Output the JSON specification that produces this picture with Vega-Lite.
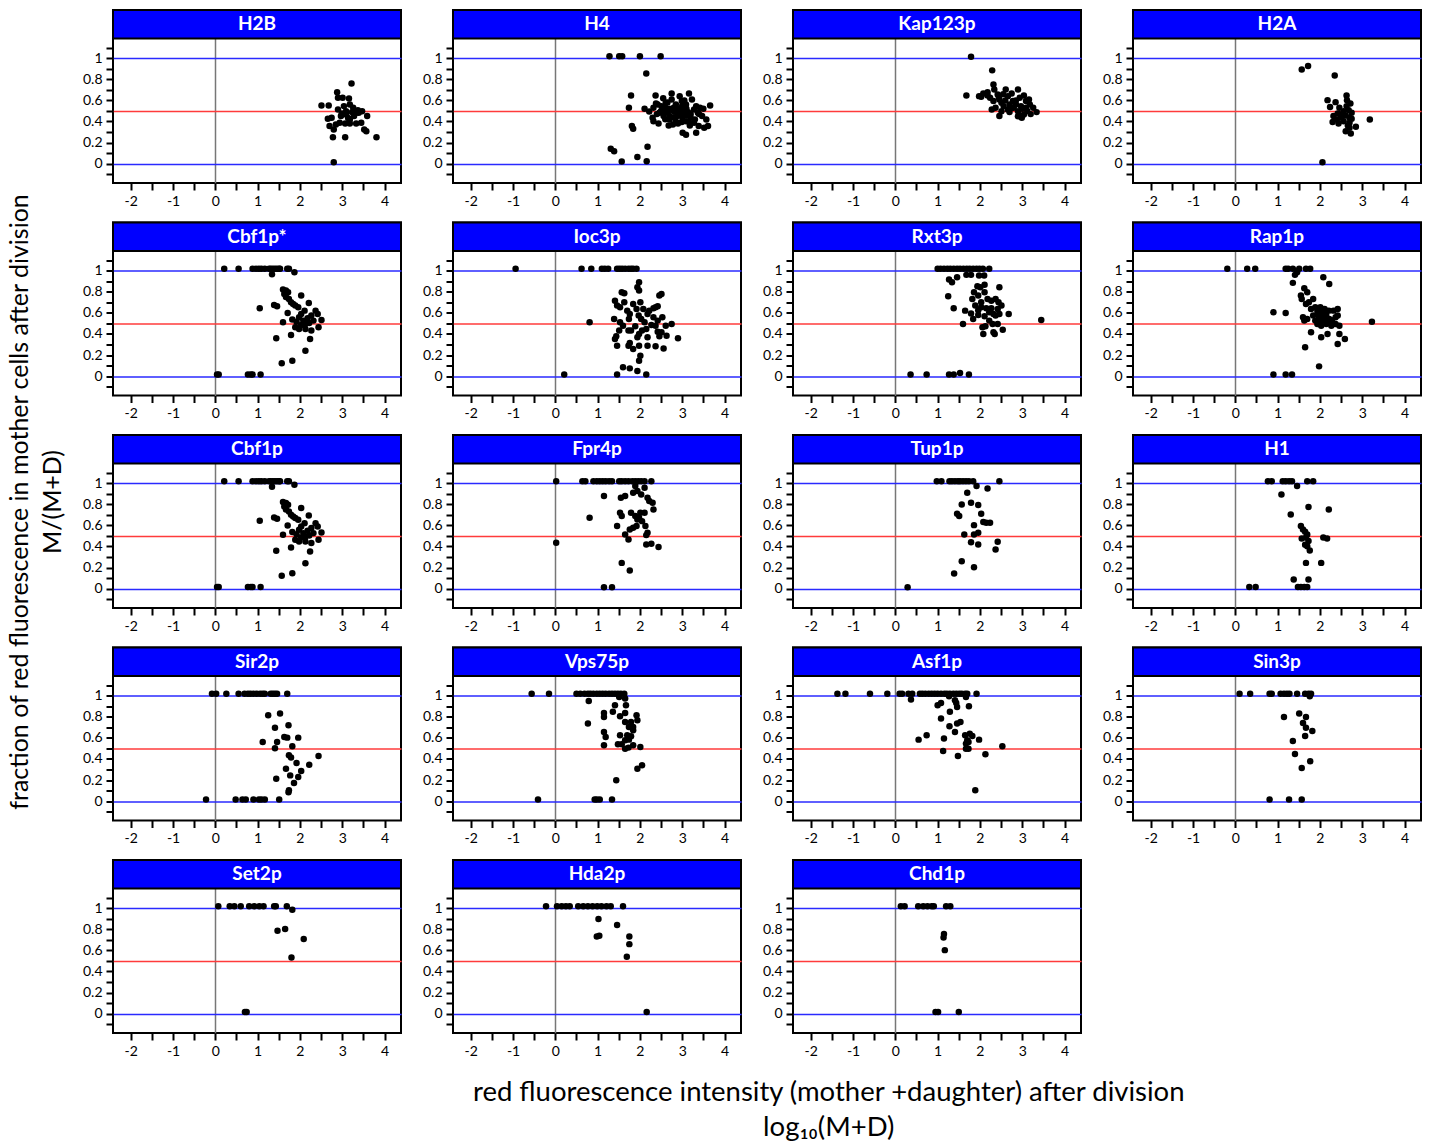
{
"$schema":"https://vega.github.io/schema/vega-lite/v6.json",
"padding":{"left":8,"top":7,"right":5,"bottom":5},
"background":"white",
"config":{
 "font":"Lato",
 "view":{"stroke":"black","strokeWidth":2},
 "axis":{"domain":false,"tickColor":"black","tickWidth":2,"tickSize":7,"labelFont":"Lato","labelFontSize":14,"labelColor":"black","labelPadding":4},
 "header":{"labels":false,"title":null,"labelFontSize":1,"labelPadding":0,"labelExpr":"''"},
 "headerFacet":{"labels":false,"title":null,"labelFontSize":1,"labelPadding":0,"labelExpr":"''"},
 "title":{"font":"Lato","fontWeight":"normal","color":"black"}
},
"title":{"text":["red fluorescence intensity (mother +daughter) after division","log₁₀(M+D)"],"orient":"bottom","fontSize":27.5,"lineHeight":35,"anchor":"middle","offset":20,"dx":113},
"vconcat":[{
 "title":{"text":["fraction of red fluorescence  in mother cells after division","M/(M+D)"],"orient":"left","fontSize":25,"lineHeight":33,"anchor":"middle","offset":15,"dx":31},
 "data":{"values":[
{"p":"H2B","x":2.51,"y":0.552},{"p":"H2B","x":2.68,"y":0.552},{"p":"H2B","x":2.88,"y":0.679},{"p":"H2B","x":2.90,"y":0.625},{"p":"H2B","x":3.01,"y":0.625},{"p":"H2B","x":3.16,"y":0.619},{"p":"H2B","x":3.22,"y":0.762},{"p":"H2B","x":3.04,"y":0.546},{"p":"H2B","x":2.90,"y":0.514},{"p":"H2B","x":3.09,"y":0.498},{"p":"H2B","x":3.18,"y":0.562},{"p":"H2B","x":3.26,"y":0.530},{"p":"H2B","x":3.37,"y":0.508},{"p":"H2B","x":3.47,"y":0.498},{"p":"H2B","x":3.59,"y":0.451},{"p":"H2B","x":3.28,"y":0.451},{"p":"H2B","x":3.18,"y":0.419},{"p":"H2B","x":3.09,"y":0.467},{"p":"H2B","x":2.97,"y":0.451},{"p":"H2B","x":2.75,"y":0.435},{"p":"H2B","x":2.66,"y":0.425},{"p":"H2B","x":2.70,"y":0.356},{"p":"H2B","x":2.80,"y":0.324},{"p":"H2B","x":2.85,"y":0.371},{"p":"H2B","x":2.94,"y":0.387},{"p":"H2B","x":3.07,"y":0.381},{"p":"H2B","x":3.18,"y":0.381},{"p":"H2B","x":3.33,"y":0.381},{"p":"H2B","x":3.45,"y":0.387},{"p":"H2B","x":3.52,"y":0.324},{"p":"H2B","x":3.57,"y":0.308},{"p":"H2B","x":2.78,"y":0.251},{"p":"H2B","x":3.07,"y":0.251},{"p":"H2B","x":3.81,"y":0.251},{"p":"H2B","x":2.80,"y":0.013},{"p":"H2B","x":3.39,"y":0.483},{"p":"H2B","x":3.33,"y":0.483},{"p":"H2B","x":3.23,"y":0.489},{"p":"H2B","x":3.14,"y":0.432},{"p":"H2B","x":2.99,"y":0.476},
{"p":"H4","x":1.28,"y":1.02},{"p":"H4","x":1.51,"y":1.02},{"p":"H4","x":1.58,"y":1.02},{"p":"H4","x":2.00,"y":1.02},{"p":"H4","x":2.49,"y":1.02},{"p":"H4","x":2.15,"y":0.857},{"p":"H4","x":1.79,"y":0.648},{"p":"H4","x":1.74,"y":0.530},{"p":"H4","x":2.11,"y":0.521},{"p":"H4","x":2.37,"y":0.648},{"p":"H4","x":1.81,"y":0.356},{"p":"H4","x":1.84,"y":0.33},{"p":"H4","x":1.31,"y":0.140},{"p":"H4","x":1.39,"y":0.117},{"p":"H4","x":1.57,"y":0.02},{"p":"H4","x":1.94,"y":0.063},{"p":"H4","x":2.16,"y":0.022},{"p":"H4","x":2.18,"y":0.159},
{"p":"H4","x":2.32,"y":0.530},{"p":"H4","x":2.42,"y":0.562},{"p":"H4","x":2.51,"y":0.546},{"p":"H4","x":2.61,"y":0.578},{"p":"H4","x":2.75,"y":0.667},{"p":"H4","x":2.75,"y":0.610},{"p":"H4","x":2.85,"y":0.562},{"p":"H4","x":2.94,"y":0.641},{"p":"H4","x":2.99,"y":0.594},{"p":"H4","x":3.09,"y":0.562},{"p":"H4","x":3.16,"y":0.667},{"p":"H4","x":3.23,"y":0.610},{"p":"H4","x":3.33,"y":0.546},{"p":"H4","x":3.42,"y":0.530},{"p":"H4","x":3.66,"y":0.552},{"p":"H4","x":2.30,"y":0.435},{"p":"H4","x":2.32,"y":0.403},{"p":"H4","x":2.44,"y":0.381},{"p":"H4","x":2.56,"y":0.451},{"p":"H4","x":2.66,"y":0.483},{"p":"H4","x":2.70,"y":0.419},{"p":"H4","x":2.80,"y":0.498},{"p":"H4","x":2.88,"y":0.451},{"p":"H4","x":2.94,"y":0.498},{"p":"H4","x":3.04,"y":0.467},{"p":"H4","x":3.14,"y":0.489},{"p":"H4","x":3.20,"y":0.435},{"p":"H4","x":3.28,"y":0.514},{"p":"H4","x":3.37,"y":0.483},{"p":"H4","x":3.47,"y":0.451},{"p":"H4","x":3.57,"y":0.419},{"p":"H4","x":2.46,"y":0.483},{"p":"H4","x":2.59,"y":0.508},{"p":"H4","x":2.90,"y":0.381},{"p":"H4","x":2.99,"y":0.394},{"p":"H4","x":3.09,"y":0.403},{"p":"H4","x":3.18,"y":0.362},{"p":"H4","x":3.28,"y":0.387},{"p":"H4","x":3.39,"y":0.356},{"p":"H4","x":3.52,"y":0.340},{"p":"H4","x":3.61,"y":0.356},{"p":"H4","x":3.01,"y":0.292},{"p":"H4","x":3.09,"y":0.273},{"p":"H4","x":3.33,"y":0.292},{"p":"H4","x":2.68,"y":0.362},{"p":"H4","x":2.78,"y":0.371},{"p":"H4","x":2.22,"y":0.495},
{"p":"H4","x":2.50,"y":0.50},{"p":"H4","x":2.60,"y":0.53},{"p":"H4","x":2.70,"y":0.52},{"p":"H4","x":2.80,"y":0.53},{"p":"H4","x":2.90,"y":0.52},{"p":"H4","x":3.00,"y":0.50},{"p":"H4","x":3.10,"y":0.52},{"p":"H4","x":3.20,"y":0.47},{"p":"H4","x":2.90,"y":0.47},{"p":"H4","x":2.80,"y":0.44},{"p":"H4","x":3.00,"y":0.44},{"p":"H4","x":3.10,"y":0.46},{"p":"H4","x":2.60,"y":0.42},{"p":"H4","x":2.40,"y":0.47},{"p":"H4","x":3.30,"y":0.42},{"p":"H4","x":3.00,"y":0.55},{"p":"H4","x":2.65,"y":0.58},{"p":"H4","x":2.55,"y":0.62},{"p":"H4","x":3.40,"y":0.47},{"p":"H4","x":2.85,"y":0.40},{"p":"H4","x":3.15,"y":0.40},{"p":"H4","x":2.38,"y":0.57},{"p":"H4","x":3.50,"y":0.52},{"p":"H4","x":3.05,"y":0.60},{"p":"H4","x":2.70,"y":0.45},
{"p":"Kap123p","x":1.79,"y":1.016},{"p":"Kap123p","x":1.68,"y":0.648},{"p":"Kap123p","x":2.29,"y":0.886},{"p":"Kap123p","x":1.98,"y":0.641},{"p":"Kap123p","x":2.08,"y":0.667},{"p":"Kap123p","x":2.18,"y":0.679},{"p":"Kap123p","x":2.24,"y":0.625},{"p":"Kap123p","x":2.32,"y":0.752},{"p":"Kap123p","x":2.34,"y":0.705},{"p":"Kap123p","x":2.42,"y":0.657},{"p":"Kap123p","x":2.46,"y":0.610},{"p":"Kap123p","x":2.51,"y":0.578},{"p":"Kap123p","x":2.61,"y":0.705},{"p":"Kap123p","x":2.66,"y":0.641},{"p":"Kap123p","x":2.75,"y":0.667},{"p":"Kap123p","x":2.78,"y":0.594},{"p":"Kap123p","x":2.90,"y":0.705},{"p":"Kap123p","x":2.94,"y":0.625},{"p":"Kap123p","x":3.04,"y":0.648},{"p":"Kap123p","x":3.09,"y":0.594},{"p":"Kap123p","x":3.16,"y":0.610},{"p":"Kap123p","x":3.18,"y":0.562},{"p":"Kap123p","x":3.26,"y":0.530},{"p":"Kap123p","x":3.34,"y":0.489},{"p":"Kap123p","x":2.28,"y":0.514},{"p":"Kap123p","x":2.37,"y":0.530},{"p":"Kap123p","x":2.46,"y":0.451},{"p":"Kap123p","x":2.56,"y":0.546},{"p":"Kap123p","x":2.66,"y":0.514},{"p":"Kap123p","x":2.70,"y":0.489},{"p":"Kap123p","x":2.80,"y":0.530},{"p":"Kap123p","x":2.85,"y":0.562},{"p":"Kap123p","x":2.90,"y":0.498},{"p":"Kap123p","x":2.94,"y":0.451},{"p":"Kap123p","x":2.99,"y":0.435},{"p":"Kap123p","x":3.04,"y":0.467},{"p":"Kap123p","x":3.09,"y":0.530},{"p":"Kap123p","x":2.97,"y":0.546},{"p":"Kap123p","x":2.70,"y":0.562},{"p":"Kap123p","x":2.51,"y":0.498},{"p":"Kap123p","x":2.32,"y":0.594},{"p":"Kap123p","x":2.18,"y":0.648},{"p":"Kap123p","x":2.03,"y":0.635},{"p":"Kap123p","x":2.60,"y":0.60},{"p":"Kap123p","x":2.85,"y":0.60},{"p":"Kap123p","x":3.00,"y":0.52},{"p":"Kap123p","x":2.45,"y":0.63},{"p":"Kap123p","x":2.75,"y":0.53},{"p":"Kap123p","x":3.12,"y":0.50},{"p":"Kap123p","x":2.90,"y":0.45},{"p":"Kap123p","x":3.20,"y":0.47},{"p":"Kap123p","x":2.55,"y":0.66},
{"p":"H2A","x":1.57,"y":0.895},{"p":"H2A","x":1.72,"y":0.927},{"p":"H2A","x":2.35,"y":0.838},{"p":"H2A","x":2.06,"y":0.013},{"p":"H2A","x":2.18,"y":0.603},{"p":"H2A","x":2.24,"y":0.537},{"p":"H2A","x":2.37,"y":0.584},{"p":"H2A","x":2.63,"y":0.648},{"p":"H2A","x":2.64,"y":0.603},{"p":"H2A","x":2.46,"y":0.530},{"p":"H2A","x":2.56,"y":0.498},{"p":"H2A","x":2.68,"y":0.508},{"p":"H2A","x":2.32,"y":0.451},{"p":"H2A","x":2.42,"y":0.476},{"p":"H2A","x":2.51,"y":0.435},{"p":"H2A","x":2.61,"y":0.457},{"p":"H2A","x":2.75,"y":0.483},{"p":"H2A","x":2.70,"y":0.435},{"p":"H2A","x":2.30,"y":0.394},{"p":"H2A","x":2.44,"y":0.381},{"p":"H2A","x":2.56,"y":0.403},{"p":"H2A","x":2.66,"y":0.362},{"p":"H2A","x":2.40,"y":0.419},{"p":"H2A","x":2.49,"y":0.467},{"p":"H2A","x":2.63,"y":0.546},{"p":"H2A","x":2.72,"y":0.572},{"p":"H2A","x":2.61,"y":0.308},{"p":"H2A","x":2.73,"y":0.286},{"p":"H2A","x":2.70,"y":0.340},{"p":"H2A","x":2.75,"y":0.425},{"p":"H2A","x":3.18,"y":0.419},{"p":"H2A","x":2.70,"y":0.387},{"p":"H2A","x":2.85,"y":0.35},
{"p":"Cbf1p*","x":0.21,"y":1.02},{"p":"Cbf1p*","x":0.55,"y":1.02},{"p":"Cbf1p*","x":0.88,"y":1.02},{"p":"Cbf1p*","x":0.96,"y":1.02},{"p":"Cbf1p*","x":1.03,"y":1.02},{"p":"Cbf1p*","x":1.09,"y":1.02},{"p":"Cbf1p*","x":1.17,"y":1.02},{"p":"Cbf1p*","x":1.27,"y":1.02},{"p":"Cbf1p*","x":1.31,"y":1.02},{"p":"Cbf1p*","x":1.36,"y":1.02},{"p":"Cbf1p*","x":1.41,"y":1.02},{"p":"Cbf1p*","x":1.46,"y":1.02},{"p":"Cbf1p*","x":1.51,"y":1.02},{"p":"Cbf1p*","x":1.53,"y":1.02},{"p":"Cbf1p*","x":1.70,"y":1.02},{"p":"Cbf1p*","x":1.74,"y":1.02},{"p":"Cbf1p*","x":1.87,"y":0.987},{"p":"Cbf1p*","x":1.34,"y":0.968},{"p":"Cbf1p*","x":0.04,"y":0.015},{"p":"Cbf1p*","x":0.08,"y":0.015},{"p":"Cbf1p*","x":0.77,"y":0.015},{"p":"Cbf1p*","x":0.84,"y":0.015},{"p":"Cbf1p*","x":0.88,"y":0.015},{"p":"Cbf1p*","x":1.07,"y":0.015},{"p":"Cbf1p*","x":1.05,"y":0.644},{"p":"Cbf1p*","x":1.39,"y":0.676},{"p":"Cbf1p*","x":1.46,"y":0.663},{"p":"Cbf1p*","x":1.60,"y":0.822},{"p":"Cbf1p*","x":1.67,"y":0.813},{"p":"Cbf1p*","x":1.72,"y":0.797},{"p":"Cbf1p*","x":1.63,"y":0.781},{"p":"Cbf1p*","x":1.67,"y":0.752},{"p":"Cbf1p*","x":1.74,"y":0.733},{"p":"Cbf1p*","x":1.79,"y":0.702},{"p":"Cbf1p*","x":1.84,"y":0.686},{"p":"Cbf1p*","x":1.89,"y":0.670},{"p":"Cbf1p*","x":1.96,"y":0.654},{"p":"Cbf1p*","x":2.03,"y":0.765},{"p":"Cbf1p*","x":2.21,"y":0.695},{"p":"Cbf1p*","x":2.11,"y":0.622},{"p":"Cbf1p*","x":2.03,"y":0.590},{"p":"Cbf1p*","x":1.98,"y":0.559},{"p":"Cbf1p*","x":2.08,"y":0.527},{"p":"Cbf1p*","x":2.18,"y":0.549},{"p":"Cbf1p*","x":2.27,"y":0.575},{"p":"Cbf1p*","x":2.37,"y":0.622},{"p":"Cbf1p*","x":2.42,"y":0.590},{"p":"Cbf1p*","x":2.32,"y":0.527},{"p":"Cbf1p*","x":2.51,"y":0.533},{"p":"Cbf1p*","x":2.22,"y":0.505},{"p":"Cbf1p*","x":2.13,"y":0.495},{"p":"Cbf1p*","x":2.03,"y":0.486},{"p":"Cbf1p*","x":1.92,"y":0.517},{"p":"Cbf1p*","x":1.82,"y":0.537},{"p":"Cbf1p*","x":1.60,"y":0.511},{"p":"Cbf1p*","x":1.71,"y":0.600},{"p":"Cbf1p*","x":1.89,"y":0.463},{"p":"Cbf1p*","x":1.98,"y":0.448},{"p":"Cbf1p*","x":2.13,"y":0.448},{"p":"Cbf1p*","x":2.27,"y":0.432},{"p":"Cbf1p*","x":2.44,"y":0.463},{"p":"Cbf1p*","x":1.79,"y":0.390},{"p":"Cbf1p*","x":1.44,"y":0.359},{"p":"Cbf1p*","x":2.24,"y":0.352},{"p":"Cbf1p*","x":2.13,"y":0.241},{"p":"Cbf1p*","x":1.57,"y":0.121},{"p":"Cbf1p*","x":1.82,"y":0.146},
{"p":"Cbf1p","x":0.21,"y":1.02},{"p":"Cbf1p","x":0.55,"y":1.02},{"p":"Cbf1p","x":0.88,"y":1.02},{"p":"Cbf1p","x":0.96,"y":1.02},{"p":"Cbf1p","x":1.03,"y":1.02},{"p":"Cbf1p","x":1.09,"y":1.02},{"p":"Cbf1p","x":1.17,"y":1.02},{"p":"Cbf1p","x":1.27,"y":1.02},{"p":"Cbf1p","x":1.31,"y":1.02},{"p":"Cbf1p","x":1.36,"y":1.02},{"p":"Cbf1p","x":1.41,"y":1.02},{"p":"Cbf1p","x":1.46,"y":1.02},{"p":"Cbf1p","x":1.51,"y":1.02},{"p":"Cbf1p","x":1.53,"y":1.02},{"p":"Cbf1p","x":1.70,"y":1.02},{"p":"Cbf1p","x":1.74,"y":1.02},{"p":"Cbf1p","x":1.87,"y":0.987},{"p":"Cbf1p","x":1.34,"y":0.968},{"p":"Cbf1p","x":0.04,"y":0.015},{"p":"Cbf1p","x":0.08,"y":0.015},{"p":"Cbf1p","x":0.77,"y":0.015},{"p":"Cbf1p","x":0.84,"y":0.015},{"p":"Cbf1p","x":0.88,"y":0.015},{"p":"Cbf1p","x":1.07,"y":0.015},{"p":"Cbf1p","x":1.05,"y":0.644},{"p":"Cbf1p","x":1.39,"y":0.676},{"p":"Cbf1p","x":1.46,"y":0.663},{"p":"Cbf1p","x":1.60,"y":0.822},{"p":"Cbf1p","x":1.67,"y":0.813},{"p":"Cbf1p","x":1.72,"y":0.797},{"p":"Cbf1p","x":1.63,"y":0.781},{"p":"Cbf1p","x":1.67,"y":0.752},{"p":"Cbf1p","x":1.74,"y":0.733},{"p":"Cbf1p","x":1.79,"y":0.702},{"p":"Cbf1p","x":1.84,"y":0.686},{"p":"Cbf1p","x":1.89,"y":0.670},{"p":"Cbf1p","x":1.96,"y":0.654},{"p":"Cbf1p","x":2.03,"y":0.765},{"p":"Cbf1p","x":2.21,"y":0.695},{"p":"Cbf1p","x":2.11,"y":0.622},{"p":"Cbf1p","x":2.03,"y":0.590},{"p":"Cbf1p","x":1.98,"y":0.559},{"p":"Cbf1p","x":2.08,"y":0.527},{"p":"Cbf1p","x":2.18,"y":0.549},{"p":"Cbf1p","x":2.27,"y":0.575},{"p":"Cbf1p","x":2.37,"y":0.622},{"p":"Cbf1p","x":2.42,"y":0.590},{"p":"Cbf1p","x":2.32,"y":0.527},{"p":"Cbf1p","x":2.51,"y":0.533},{"p":"Cbf1p","x":2.22,"y":0.505},{"p":"Cbf1p","x":2.13,"y":0.495},{"p":"Cbf1p","x":2.03,"y":0.486},{"p":"Cbf1p","x":1.92,"y":0.517},{"p":"Cbf1p","x":1.82,"y":0.537},{"p":"Cbf1p","x":1.60,"y":0.511},{"p":"Cbf1p","x":1.71,"y":0.600},{"p":"Cbf1p","x":1.89,"y":0.463},{"p":"Cbf1p","x":1.98,"y":0.448},{"p":"Cbf1p","x":2.13,"y":0.448},{"p":"Cbf1p","x":2.27,"y":0.432},{"p":"Cbf1p","x":2.44,"y":0.463},{"p":"Cbf1p","x":1.79,"y":0.390},{"p":"Cbf1p","x":1.44,"y":0.359},{"p":"Cbf1p","x":2.24,"y":0.352},{"p":"Cbf1p","x":2.13,"y":0.241},{"p":"Cbf1p","x":1.57,"y":0.121},{"p":"Cbf1p","x":1.82,"y":0.146},
{"p":"Ioc3p","x":-0.94,"y":1.02},{"p":"Ioc3p","x":0.62,"y":1.02},{"p":"Ioc3p","x":0.85,"y":1.02},{"p":"Ioc3p","x":1.10,"y":1.02},{"p":"Ioc3p","x":1.17,"y":1.02},{"p":"Ioc3p","x":1.25,"y":1.02},{"p":"Ioc3p","x":1.46,"y":1.02},{"p":"Ioc3p","x":1.52,"y":1.02},{"p":"Ioc3p","x":1.58,"y":1.02},{"p":"Ioc3p","x":1.65,"y":1.02},{"p":"Ioc3p","x":1.73,"y":1.02},{"p":"Ioc3p","x":1.79,"y":1.02},{"p":"Ioc3p","x":1.84,"y":1.02},{"p":"Ioc3p","x":1.92,"y":1.02},{"p":"Ioc3p","x":0.21,"y":0.015},{"p":"Ioc3p","x":1.46,"y":0.015},{"p":"Ioc3p","x":1.60,"y":0.083},{"p":"Ioc3p","x":1.76,"y":0.073},{"p":"Ioc3p","x":1.94,"y":0.048},{"p":"Ioc3p","x":2.15,"y":0.015},{"p":"Ioc3p","x":1.98,"y":0.892},{"p":"Ioc3p","x":0.81,"y":0.511},
{"p":"Ioc3p","x":1.41,"y":0.717},{"p":"Ioc3p","x":1.57,"y":0.797},{"p":"Ioc3p","x":1.63,"y":0.787},{"p":"Ioc3p","x":1.94,"y":0.844},{"p":"Ioc3p","x":1.98,"y":0.813},{"p":"Ioc3p","x":1.46,"y":0.670},{"p":"Ioc3p","x":1.53,"y":0.654},{"p":"Ioc3p","x":1.63,"y":0.702},{"p":"Ioc3p","x":1.70,"y":0.622},{"p":"Ioc3p","x":1.76,"y":0.590},{"p":"Ioc3p","x":1.84,"y":0.686},{"p":"Ioc3p","x":1.92,"y":0.638},{"p":"Ioc3p","x":2.01,"y":0.702},{"p":"Ioc3p","x":1.39,"y":0.543},{"p":"Ioc3p","x":1.53,"y":0.511},{"p":"Ioc3p","x":1.60,"y":0.479},{"p":"Ioc3p","x":1.51,"y":0.432},{"p":"Ioc3p","x":1.44,"y":0.378},{"p":"Ioc3p","x":1.41,"y":0.352},{"p":"Ioc3p","x":1.46,"y":0.289},{"p":"Ioc3p","x":1.73,"y":0.289},{"p":"Ioc3p","x":1.76,"y":0.314},{"p":"Ioc3p","x":1.97,"y":0.575},{"p":"Ioc3p","x":2.03,"y":0.543},{"p":"Ioc3p","x":2.11,"y":0.511},{"p":"Ioc3p","x":2.18,"y":0.590},{"p":"Ioc3p","x":2.22,"y":0.622},{"p":"Ioc3p","x":2.32,"y":0.644},{"p":"Ioc3p","x":2.37,"y":0.654},{"p":"Ioc3p","x":2.42,"y":0.663},{"p":"Ioc3p","x":2.46,"y":0.765},{"p":"Ioc3p","x":2.51,"y":0.781},{"p":"Ioc3p","x":2.32,"y":0.559},{"p":"Ioc3p","x":2.42,"y":0.527},{"p":"Ioc3p","x":2.37,"y":0.479},{"p":"Ioc3p","x":2.27,"y":0.486},{"p":"Ioc3p","x":2.15,"y":0.448},{"p":"Ioc3p","x":2.05,"y":0.432},{"p":"Ioc3p","x":1.98,"y":0.400},{"p":"Ioc3p","x":1.94,"y":0.368},{"p":"Ioc3p","x":1.89,"y":0.473},{"p":"Ioc3p","x":1.79,"y":0.432},{"p":"Ioc3p","x":1.74,"y":0.543},{"p":"Ioc3p","x":2.08,"y":0.638},{"p":"Ioc3p","x":2.18,"y":0.368},{"p":"Ioc3p","x":2.42,"y":0.422},{"p":"Ioc3p","x":2.51,"y":0.416},{"p":"Ioc3p","x":2.61,"y":0.479},{"p":"Ioc3p","x":2.75,"y":0.495},{"p":"Ioc3p","x":2.53,"y":0.559},{"p":"Ioc3p","x":2.63,"y":0.384},{"p":"Ioc3p","x":2.46,"y":0.378},{"p":"Ioc3p","x":2.90,"y":0.359},{"p":"Ioc3p","x":2.56,"y":0.263},{"p":"Ioc3p","x":2.37,"y":0.283},{"p":"Ioc3p","x":2.18,"y":0.289},{"p":"Ioc3p","x":1.98,"y":0.289},{"p":"Ioc3p","x":2.01,"y":0.194},{"p":"Ioc3p","x":1.98,"y":0.146},{"p":"Ioc3p","x":1.73,"y":0.432},{"p":"Ioc3p","x":1.84,"y":0.257},
{"p":"Rxt3p","x":1.00,"y":1.02},{"p":"Rxt3p","x":1.07,"y":1.02},{"p":"Rxt3p","x":1.15,"y":1.02},{"p":"Rxt3p","x":1.23,"y":1.02},{"p":"Rxt3p","x":1.30,"y":1.02},{"p":"Rxt3p","x":1.38,"y":1.02},{"p":"Rxt3p","x":1.46,"y":1.02},{"p":"Rxt3p","x":1.53,"y":1.02},{"p":"Rxt3p","x":1.61,"y":1.02},{"p":"Rxt3p","x":1.69,"y":1.02},{"p":"Rxt3p","x":1.76,"y":1.02},{"p":"Rxt3p","x":1.84,"y":1.02},{"p":"Rxt3p","x":1.92,"y":1.02},{"p":"Rxt3p","x":1.99,"y":1.02},{"p":"Rxt3p","x":2.07,"y":1.02},{"p":"Rxt3p","x":2.22,"y":1.02},{"p":"Rxt3p","x":1.68,"y":0.962},{"p":"Rxt3p","x":1.79,"y":0.962},{"p":"Rxt3p","x":1.98,"y":0.956},{"p":"Rxt3p","x":2.10,"y":0.956},{"p":"Rxt3p","x":0.36,"y":0.015},{"p":"Rxt3p","x":0.74,"y":0.015},{"p":"Rxt3p","x":1.27,"y":0.015},{"p":"Rxt3p","x":1.38,"y":0.015},{"p":"Rxt3p","x":1.53,"y":0.029},{"p":"Rxt3p","x":1.74,"y":0.015},
{"p":"Rxt3p","x":1.27,"y":0.917},{"p":"Rxt3p","x":1.34,"y":0.892},{"p":"Rxt3p","x":1.46,"y":0.940},{"p":"Rxt3p","x":1.25,"y":0.759},{"p":"Rxt3p","x":1.38,"y":0.644},{"p":"Rxt3p","x":1.65,"y":0.622},{"p":"Rxt3p","x":1.60,"y":0.495},{"p":"Rxt3p","x":1.84,"y":0.543},{"p":"Rxt3p","x":1.89,"y":0.670},{"p":"Rxt3p","x":1.86,"y":0.797},{"p":"Rxt3p","x":1.94,"y":0.854},{"p":"Rxt3p","x":2.01,"y":0.844},{"p":"Rxt3p","x":2.11,"y":0.867},{"p":"Rxt3p","x":1.82,"y":0.733},{"p":"Rxt3p","x":1.96,"y":0.765},{"p":"Rxt3p","x":2.03,"y":0.702},{"p":"Rxt3p","x":2.11,"y":0.797},{"p":"Rxt3p","x":2.18,"y":0.733},{"p":"Rxt3p","x":2.27,"y":0.717},{"p":"Rxt3p","x":2.37,"y":0.733},{"p":"Rxt3p","x":2.44,"y":0.702},{"p":"Rxt3p","x":2.46,"y":0.844},{"p":"Rxt3p","x":2.51,"y":0.670},{"p":"Rxt3p","x":2.42,"y":0.638},{"p":"Rxt3p","x":2.27,"y":0.644},{"p":"Rxt3p","x":2.22,"y":0.606},{"p":"Rxt3p","x":2.32,"y":0.590},{"p":"Rxt3p","x":2.37,"y":0.575},{"p":"Rxt3p","x":2.46,"y":0.590},{"p":"Rxt3p","x":2.68,"y":0.590},{"p":"Rxt3p","x":2.15,"y":0.644},{"p":"Rxt3p","x":2.03,"y":0.654},{"p":"Rxt3p","x":1.96,"y":0.581},{"p":"Rxt3p","x":2.11,"y":0.568},{"p":"Rxt3p","x":2.22,"y":0.527},{"p":"Rxt3p","x":2.42,"y":0.495},{"p":"Rxt3p","x":2.30,"y":0.495},{"p":"Rxt3p","x":2.06,"y":0.463},{"p":"Rxt3p","x":2.13,"y":0.473},{"p":"Rxt3p","x":2.08,"y":0.400},{"p":"Rxt3p","x":2.32,"y":0.416},{"p":"Rxt3p","x":2.35,"y":0.400},{"p":"Rxt3p","x":2.54,"y":0.441},{"p":"Rxt3p","x":3.45,"y":0.533},{"p":"Rxt3p","x":1.79,"y":0.594},{"p":"Rxt3p","x":1.96,"y":0.625},
{"p":"Rap1p","x":-0.19,"y":1.02},{"p":"Rap1p","x":0.28,"y":1.02},{"p":"Rap1p","x":0.47,"y":1.02},{"p":"Rap1p","x":1.19,"y":1.02},{"p":"Rap1p","x":1.25,"y":1.02},{"p":"Rap1p","x":1.36,"y":1.02},{"p":"Rap1p","x":1.51,"y":1.02},{"p":"Rap1p","x":1.67,"y":1.02},{"p":"Rap1p","x":1.77,"y":1.02},{"p":"Rap1p","x":1.41,"y":0.962},{"p":"Rap1p","x":1.46,"y":0.987},{"p":"Rap1p","x":0.90,"y":0.015},{"p":"Rap1p","x":1.19,"y":0.015},{"p":"Rap1p","x":1.34,"y":0.015},{"p":"Rap1p","x":1.36,"y":0.886},{"p":"Rap1p","x":2.08,"y":0.940},{"p":"Rap1p","x":2.22,"y":0.876},{"p":"Rap1p","x":0.90,"y":0.606},{"p":"Rap1p","x":1.19,"y":0.600},
{"p":"Rap1p","x":1.63,"y":0.835},{"p":"Rap1p","x":1.70,"y":0.797},{"p":"Rap1p","x":1.55,"y":0.765},{"p":"Rap1p","x":1.57,"y":0.733},{"p":"Rap1p","x":1.74,"y":0.702},{"p":"Rap1p","x":1.84,"y":0.733},{"p":"Rap1p","x":1.89,"y":0.654},{"p":"Rap1p","x":1.67,"y":0.686},{"p":"Rap1p","x":1.79,"y":0.638},{"p":"Rap1p","x":1.94,"y":0.622},{"p":"Rap1p","x":2.01,"y":0.654},{"p":"Rap1p","x":2.11,"y":0.638},{"p":"Rap1p","x":2.21,"y":0.622},{"p":"Rap1p","x":2.32,"y":0.622},{"p":"Rap1p","x":2.42,"y":0.638},{"p":"Rap1p","x":1.60,"y":0.559},{"p":"Rap1p","x":1.63,"y":0.527},{"p":"Rap1p","x":1.70,"y":0.543},{"p":"Rap1p","x":1.84,"y":0.575},{"p":"Rap1p","x":1.89,"y":0.527},{"p":"Rap1p","x":1.98,"y":0.559},{"p":"Rap1p","x":2.05,"y":0.575},{"p":"Rap1p","x":2.13,"y":0.559},{"p":"Rap1p","x":2.22,"y":0.543},{"p":"Rap1p","x":2.37,"y":0.559},{"p":"Rap1p","x":2.42,"y":0.575},{"p":"Rap1p","x":1.94,"y":0.495},{"p":"Rap1p","x":2.03,"y":0.479},{"p":"Rap1p","x":2.15,"y":0.495},{"p":"Rap1p","x":2.27,"y":0.479},{"p":"Rap1p","x":2.37,"y":0.495},{"p":"Rap1p","x":2.46,"y":0.479},{"p":"Rap1p","x":2.46,"y":0.400},{"p":"Rap1p","x":1.79,"y":0.416},{"p":"Rap1p","x":1.65,"y":0.273},{"p":"Rap1p","x":2.03,"y":0.368},{"p":"Rap1p","x":2.18,"y":0.400},{"p":"Rap1p","x":2.42,"y":0.305},{"p":"Rap1p","x":2.59,"y":0.352},{"p":"Rap1p","x":1.98,"y":0.092},{"p":"Rap1p","x":3.23,"y":0.517},{"p":"Rap1p","x":2.00,"y":0.52},{"p":"Rap1p","x":2.10,"y":0.53},{"p":"Rap1p","x":2.20,"y":0.51},{"p":"Rap1p","x":1.95,"y":0.60},{"p":"Rap1p","x":2.05,"y":0.61},{"p":"Rap1p","x":2.15,"y":0.58},{"p":"Rap1p","x":2.28,"y":0.53},
{"p":"Fpr4p","x":0.02,"y":1.02},{"p":"Fpr4p","x":0.64,"y":1.02},{"p":"Fpr4p","x":0.71,"y":1.02},{"p":"Fpr4p","x":0.90,"y":1.02},{"p":"Fpr4p","x":0.98,"y":1.02},{"p":"Fpr4p","x":1.05,"y":1.02},{"p":"Fpr4p","x":1.12,"y":1.02},{"p":"Fpr4p","x":1.19,"y":1.02},{"p":"Fpr4p","x":1.27,"y":1.02},{"p":"Fpr4p","x":1.34,"y":1.02},{"p":"Fpr4p","x":1.51,"y":1.02},{"p":"Fpr4p","x":1.57,"y":1.02},{"p":"Fpr4p","x":1.65,"y":1.02},{"p":"Fpr4p","x":1.73,"y":1.02},{"p":"Fpr4p","x":1.82,"y":1.02},{"p":"Fpr4p","x":1.89,"y":1.02},{"p":"Fpr4p","x":1.96,"y":1.02},{"p":"Fpr4p","x":2.03,"y":1.02},{"p":"Fpr4p","x":2.11,"y":1.02},{"p":"Fpr4p","x":2.27,"y":1.02},
{"p":"Fpr4p","x":0.02,"y":0.435},{"p":"Fpr4p","x":0.81,"y":0.673},{"p":"Fpr4p","x":1.15,"y":0.879},{"p":"Fpr4p","x":1.15,"y":0.013},{"p":"Fpr4p","x":1.34,"y":0.013},{"p":"Fpr4p","x":1.55,"y":0.863},{"p":"Fpr4p","x":1.65,"y":0.879},{"p":"Fpr4p","x":1.89,"y":0.975},{"p":"Fpr4p","x":1.94,"y":0.927},{"p":"Fpr4p","x":2.03,"y":0.895},{"p":"Fpr4p","x":2.11,"y":0.959},{"p":"Fpr4p","x":1.84,"y":0.911},{"p":"Fpr4p","x":2.18,"y":0.863},{"p":"Fpr4p","x":2.22,"y":0.832},{"p":"Fpr4p","x":2.30,"y":0.816},{"p":"Fpr4p","x":2.32,"y":0.752},{"p":"Fpr4p","x":1.46,"y":0.594},{"p":"Fpr4p","x":1.53,"y":0.721},{"p":"Fpr4p","x":1.57,"y":0.689},{"p":"Fpr4p","x":1.65,"y":0.514},{"p":"Fpr4p","x":1.73,"y":0.467},{"p":"Fpr4p","x":1.76,"y":0.562},{"p":"Fpr4p","x":1.84,"y":0.578},{"p":"Fpr4p","x":1.92,"y":0.594},{"p":"Fpr4p","x":1.98,"y":0.673},{"p":"Fpr4p","x":2.01,"y":0.721},{"p":"Fpr4p","x":2.11,"y":0.721},{"p":"Fpr4p","x":2.05,"y":0.641},{"p":"Fpr4p","x":2.13,"y":0.594},{"p":"Fpr4p","x":2.18,"y":0.530},{"p":"Fpr4p","x":2.15,"y":0.508},{"p":"Fpr4p","x":1.79,"y":0.721},{"p":"Fpr4p","x":1.89,"y":0.689},{"p":"Fpr4p","x":1.94,"y":0.657},{"p":"Fpr4p","x":2.15,"y":0.419},{"p":"Fpr4p","x":2.27,"y":0.425},{"p":"Fpr4p","x":2.44,"y":0.394},{"p":"Fpr4p","x":1.57,"y":0.244},{"p":"Fpr4p","x":1.76,"y":0.171},
{"p":"Tup1p","x":0.98,"y":1.02},{"p":"Tup1p","x":1.09,"y":1.02},{"p":"Tup1p","x":1.28,"y":1.02},{"p":"Tup1p","x":1.34,"y":1.02},{"p":"Tup1p","x":1.41,"y":1.02},{"p":"Tup1p","x":1.48,"y":1.02},{"p":"Tup1p","x":1.53,"y":1.02},{"p":"Tup1p","x":1.60,"y":1.02},{"p":"Tup1p","x":1.67,"y":1.02},{"p":"Tup1p","x":1.74,"y":1.02},{"p":"Tup1p","x":1.84,"y":1.02},{"p":"Tup1p","x":2.46,"y":1.02},{"p":"Tup1p","x":1.92,"y":0.975},{"p":"Tup1p","x":2.18,"y":0.952},{"p":"Tup1p","x":1.70,"y":0.911},{"p":"Tup1p","x":1.57,"y":0.800},{"p":"Tup1p","x":1.79,"y":0.816},{"p":"Tup1p","x":1.96,"y":0.794},{"p":"Tup1p","x":1.46,"y":0.711},{"p":"Tup1p","x":1.51,"y":0.689},{"p":"Tup1p","x":2.03,"y":0.711},{"p":"Tup1p","x":2.08,"y":0.632},{"p":"Tup1p","x":2.15,"y":0.625},{"p":"Tup1p","x":2.24,"y":0.625},{"p":"Tup1p","x":1.86,"y":0.603},{"p":"Tup1p","x":1.63,"y":0.514},{"p":"Tup1p","x":1.86,"y":0.514},{"p":"Tup1p","x":1.96,"y":0.530},{"p":"Tup1p","x":1.79,"y":0.441},{"p":"Tup1p","x":1.96,"y":0.419},{"p":"Tup1p","x":2.42,"y":0.444},{"p":"Tup1p","x":2.37,"y":0.371},{"p":"Tup1p","x":1.57,"y":0.260},{"p":"Tup1p","x":1.86,"y":0.203},{"p":"Tup1p","x":1.39,"y":0.143},{"p":"Tup1p","x":0.29,"y":0.013},
{"p":"H1","x":0.77,"y":1.02},{"p":"H1","x":0.86,"y":1.02},{"p":"H1","x":1.12,"y":1.02},{"p":"H1","x":1.19,"y":1.02},{"p":"H1","x":1.27,"y":1.02},{"p":"H1","x":1.34,"y":1.02},{"p":"H1","x":1.70,"y":1.02},{"p":"H1","x":1.84,"y":1.02},{"p":"H1","x":1.46,"y":0.975},{"p":"H1","x":1.09,"y":0.895},{"p":"H1","x":1.31,"y":0.705},{"p":"H1","x":1.73,"y":0.775},{"p":"H1","x":2.21,"y":0.752},{"p":"H1","x":1.55,"y":0.594},{"p":"H1","x":1.60,"y":0.562},{"p":"H1","x":1.65,"y":0.540},{"p":"H1","x":1.70,"y":0.514},{"p":"H1","x":1.57,"y":0.476},{"p":"H1","x":1.67,"y":0.486},{"p":"H1","x":1.73,"y":0.451},{"p":"H1","x":1.70,"y":0.403},{"p":"H1","x":1.76,"y":0.362},{"p":"H1","x":1.65,"y":0.416},{"p":"H1","x":2.08,"y":0.486},{"p":"H1","x":2.17,"y":0.476},{"p":"H1","x":1.67,"y":0.244},{"p":"H1","x":2.03,"y":0.244},{"p":"H1","x":1.38,"y":0.086},{"p":"H1","x":1.73,"y":0.086},{"p":"H1","x":0.33,"y":0.015},{"p":"H1","x":0.48,"y":0.015},{"p":"H1","x":1.48,"y":0.015},{"p":"H1","x":1.55,"y":0.015},{"p":"H1","x":1.63,"y":0.015},{"p":"H1","x":1.70,"y":0.015},
{"p":"Sir2p","x":-0.08,"y":1.02},{"p":"Sir2p","x":0.02,"y":1.02},{"p":"Sir2p","x":0.26,"y":1.02},{"p":"Sir2p","x":0.55,"y":1.02},{"p":"Sir2p","x":0.69,"y":1.02},{"p":"Sir2p","x":0.77,"y":1.02},{"p":"Sir2p","x":0.83,"y":1.02},{"p":"Sir2p","x":0.90,"y":1.02},{"p":"Sir2p","x":0.98,"y":1.02},{"p":"Sir2p","x":1.06,"y":1.02},{"p":"Sir2p","x":1.12,"y":1.02},{"p":"Sir2p","x":1.17,"y":1.02},{"p":"Sir2p","x":1.31,"y":1.02},{"p":"Sir2p","x":1.36,"y":1.02},{"p":"Sir2p","x":1.41,"y":1.02},{"p":"Sir2p","x":1.46,"y":1.02},{"p":"Sir2p","x":1.70,"y":1.02},{"p":"Sir2p","x":-0.22,"y":0.015},{"p":"Sir2p","x":0.48,"y":0.015},{"p":"Sir2p","x":0.64,"y":0.015},{"p":"Sir2p","x":0.72,"y":0.015},{"p":"Sir2p","x":0.90,"y":0.015},{"p":"Sir2p","x":1.03,"y":0.015},{"p":"Sir2p","x":1.09,"y":0.015},{"p":"Sir2p","x":1.17,"y":0.015},{"p":"Sir2p","x":1.51,"y":0.015},{"p":"Sir2p","x":1.25,"y":0.816},{"p":"Sir2p","x":1.53,"y":0.832},{"p":"Sir2p","x":1.41,"y":0.698},{"p":"Sir2p","x":1.73,"y":0.721},{"p":"Sir2p","x":1.12,"y":0.562},{"p":"Sir2p","x":1.46,"y":0.562},{"p":"Sir2p","x":1.63,"y":0.610},{"p":"Sir2p","x":1.70,"y":0.603},{"p":"Sir2p","x":1.96,"y":0.603},{"p":"Sir2p","x":1.41,"y":0.502},{"p":"Sir2p","x":1.82,"y":0.521},{"p":"Sir2p","x":1.74,"y":0.435},{"p":"Sir2p","x":1.79,"y":0.413},{"p":"Sir2p","x":2.44,"y":0.429},{"p":"Sir2p","x":2.22,"y":0.346},{"p":"Sir2p","x":1.92,"y":0.362},{"p":"Sir2p","x":1.67,"y":0.308},{"p":"Sir2p","x":2.03,"y":0.286},{"p":"Sir2p","x":1.77,"y":0.244},{"p":"Sir2p","x":1.96,"y":0.229},{"p":"Sir2p","x":1.86,"y":0.171},{"p":"Sir2p","x":1.44,"y":0.213},{"p":"Sir2p","x":1.74,"y":0.102},{"p":"Sir2p","x":1.73,"y":0.083},
{"p":"Vps75p","x":-0.56,"y":1.02},{"p":"Vps75p","x":-0.15,"y":1.02},{"p":"Vps75p","x":0.50,"y":1.02},{"p":"Vps75p","x":0.59,"y":1.02},{"p":"Vps75p","x":0.69,"y":1.02},{"p":"Vps75p","x":0.77,"y":1.02},{"p":"Vps75p","x":0.83,"y":1.02},{"p":"Vps75p","x":0.90,"y":1.02},{"p":"Vps75p","x":0.98,"y":1.02},{"p":"Vps75p","x":1.05,"y":1.02},{"p":"Vps75p","x":1.12,"y":1.02},{"p":"Vps75p","x":1.19,"y":1.02},{"p":"Vps75p","x":1.27,"y":1.02},{"p":"Vps75p","x":1.34,"y":1.02},{"p":"Vps75p","x":1.41,"y":1.02},{"p":"Vps75p","x":1.48,"y":1.02},{"p":"Vps75p","x":1.55,"y":1.02},{"p":"Vps75p","x":1.63,"y":1.02},{"p":"Vps75p","x":0.79,"y":0.952},{"p":"Vps75p","x":1.51,"y":0.990},{"p":"Vps75p","x":1.65,"y":0.975},{"p":"Vps75p","x":0.77,"y":0.737},{"p":"Vps75p","x":1.67,"y":0.911},{"p":"Vps75p","x":1.41,"y":0.911},{"p":"Vps75p","x":1.15,"y":0.838},{"p":"Vps75p","x":1.15,"y":0.800},{"p":"Vps75p","x":1.36,"y":0.848},{"p":"Vps75p","x":1.53,"y":0.806},{"p":"Vps75p","x":1.65,"y":0.838},{"p":"Vps75p","x":1.92,"y":0.816},{"p":"Vps75p","x":1.94,"y":0.768},{"p":"Vps75p","x":1.79,"y":0.752},{"p":"Vps75p","x":1.74,"y":0.705},{"p":"Vps75p","x":1.84,"y":0.705},{"p":"Vps75p","x":1.65,"y":0.752},{"p":"Vps75p","x":1.15,"y":0.657},{"p":"Vps75p","x":1.19,"y":0.610},{"p":"Vps75p","x":1.53,"y":0.625},{"p":"Vps75p","x":1.70,"y":0.625},{"p":"Vps75p","x":1.79,"y":0.616},{"p":"Vps75p","x":1.74,"y":0.584},{"p":"Vps75p","x":1.65,"y":0.578},{"p":"Vps75p","x":1.84,"y":0.673},{"p":"Vps75p","x":1.15,"y":0.530},{"p":"Vps75p","x":1.48,"y":0.540},{"p":"Vps75p","x":1.57,"y":0.540},{"p":"Vps75p","x":1.65,"y":0.498},{"p":"Vps75p","x":1.73,"y":0.508},{"p":"Vps75p","x":1.84,"y":0.530},{"p":"Vps75p","x":2.01,"y":0.514},{"p":"Vps75p","x":1.94,"y":0.308},{"p":"Vps75p","x":2.05,"y":0.340},{"p":"Vps75p","x":1.44,"y":0.197},{"p":"Vps75p","x":-0.41,"y":0.015},{"p":"Vps75p","x":0.93,"y":0.015},{"p":"Vps75p","x":0.98,"y":0.015},{"p":"Vps75p","x":1.05,"y":0.015},{"p":"Vps75p","x":1.34,"y":0.015},
{"p":"Asf1p","x":-1.37,"y":1.02},{"p":"Asf1p","x":-1.18,"y":1.02},{"p":"Asf1p","x":-0.60,"y":1.02},{"p":"Asf1p","x":-0.19,"y":1.02},{"p":"Asf1p","x":0.10,"y":1.02},{"p":"Asf1p","x":0.16,"y":1.02},{"p":"Asf1p","x":0.31,"y":1.02},{"p":"Asf1p","x":0.40,"y":1.02},{"p":"Asf1p","x":0.58,"y":1.02},{"p":"Asf1p","x":0.64,"y":1.02},{"p":"Asf1p","x":0.71,"y":1.02},{"p":"Asf1p","x":0.79,"y":1.02},{"p":"Asf1p","x":0.86,"y":1.02},{"p":"Asf1p","x":0.93,"y":1.02},{"p":"Asf1p","x":1.00,"y":1.02},{"p":"Asf1p","x":1.08,"y":1.02},{"p":"Asf1p","x":1.16,"y":1.02},{"p":"Asf1p","x":1.22,"y":1.02},{"p":"Asf1p","x":1.29,"y":1.02},{"p":"Asf1p","x":1.37,"y":1.02},{"p":"Asf1p","x":1.44,"y":1.02},{"p":"Asf1p","x":1.51,"y":1.02},{"p":"Asf1p","x":1.57,"y":1.02},{"p":"Asf1p","x":1.65,"y":1.02},{"p":"Asf1p","x":1.70,"y":1.02},{"p":"Asf1p","x":1.92,"y":1.02},{"p":"Asf1p","x":0.37,"y":0.965},{"p":"Asf1p","x":1.27,"y":0.997},{"p":"Asf1p","x":1.41,"y":0.959},{"p":"Asf1p","x":1.67,"y":0.990},{"p":"Asf1p","x":1.00,"y":0.911},{"p":"Asf1p","x":1.08,"y":0.933},{"p":"Asf1p","x":1.44,"y":0.933},{"p":"Asf1p","x":1.46,"y":0.895},{"p":"Asf1p","x":1.74,"y":0.902},{"p":"Asf1p","x":1.29,"y":0.848},{"p":"Asf1p","x":1.08,"y":0.784},{"p":"Asf1p","x":1.46,"y":0.737},{"p":"Asf1p","x":1.54,"y":0.752},{"p":"Asf1p","x":1.28,"y":0.711},{"p":"Asf1p","x":1.41,"y":0.657},{"p":"Asf1p","x":0.74,"y":0.625},{"p":"Asf1p","x":0.55,"y":0.584},{"p":"Asf1p","x":1.15,"y":0.594},{"p":"Asf1p","x":1.65,"y":0.625},{"p":"Asf1p","x":1.76,"y":0.641},{"p":"Asf1p","x":1.82,"y":0.619},{"p":"Asf1p","x":1.70,"y":0.578},{"p":"Asf1p","x":1.67,"y":0.546},{"p":"Asf1p","x":1.73,"y":0.562},{"p":"Asf1p","x":1.98,"y":0.584},{"p":"Asf1p","x":2.53,"y":0.521},{"p":"Asf1p","x":1.73,"y":0.498},{"p":"Asf1p","x":1.67,"y":0.498},{"p":"Asf1p","x":1.13,"y":0.476},{"p":"Asf1p","x":1.48,"y":0.429},{"p":"Asf1p","x":2.13,"y":0.444},{"p":"Asf1p","x":1.89,"y":0.102},
{"p":"Sin3p","x":0.10,"y":1.02},{"p":"Sin3p","x":0.35,"y":1.02},{"p":"Sin3p","x":0.81,"y":1.02},{"p":"Sin3p","x":0.86,"y":1.02},{"p":"Sin3p","x":1.07,"y":1.02},{"p":"Sin3p","x":1.15,"y":1.02},{"p":"Sin3p","x":1.22,"y":1.02},{"p":"Sin3p","x":1.28,"y":1.02},{"p":"Sin3p","x":1.46,"y":1.02},{"p":"Sin3p","x":1.65,"y":1.02},{"p":"Sin3p","x":1.73,"y":1.02},{"p":"Sin3p","x":1.79,"y":1.02},{"p":"Sin3p","x":1.76,"y":0.997},{"p":"Sin3p","x":1.15,"y":0.800},{"p":"Sin3p","x":1.51,"y":0.832},{"p":"Sin3p","x":1.67,"y":0.800},{"p":"Sin3p","x":1.60,"y":0.743},{"p":"Sin3p","x":1.67,"y":0.698},{"p":"Sin3p","x":1.82,"y":0.667},{"p":"Sin3p","x":1.65,"y":0.619},{"p":"Sin3p","x":1.36,"y":0.571},{"p":"Sin3p","x":1.41,"y":0.448},{"p":"Sin3p","x":1.77,"y":0.378},{"p":"Sin3p","x":1.57,"y":0.314},{"p":"Sin3p","x":0.81,"y":0.015},{"p":"Sin3p","x":1.27,"y":0.015},{"p":"Sin3p","x":1.57,"y":0.015},
{"p":"Set2p","x":0.07,"y":1.02},{"p":"Set2p","x":0.34,"y":1.02},{"p":"Set2p","x":0.45,"y":1.02},{"p":"Set2p","x":0.60,"y":1.02},{"p":"Set2p","x":0.80,"y":1.02},{"p":"Set2p","x":0.92,"y":1.02},{"p":"Set2p","x":1.04,"y":1.02},{"p":"Set2p","x":1.14,"y":1.02},{"p":"Set2p","x":1.39,"y":1.02},{"p":"Set2p","x":1.43,"y":1.02},{"p":"Set2p","x":1.69,"y":1.02},{"p":"Set2p","x":1.82,"y":0.987},{"p":"Set2p","x":1.47,"y":0.787},{"p":"Set2p","x":1.65,"y":0.803},{"p":"Set2p","x":2.09,"y":0.708},{"p":"Set2p","x":1.80,"y":0.533},{"p":"Set2p","x":0.70,"y":0.015},{"p":"Set2p","x":0.74,"y":0.015},
{"p":"Hda2p","x":-0.22,"y":1.02},{"p":"Hda2p","x":0.04,"y":1.02},{"p":"Hda2p","x":0.15,"y":1.02},{"p":"Hda2p","x":0.25,"y":1.02},{"p":"Hda2p","x":0.34,"y":1.02},{"p":"Hda2p","x":0.54,"y":1.02},{"p":"Hda2p","x":0.66,"y":1.02},{"p":"Hda2p","x":0.77,"y":1.02},{"p":"Hda2p","x":0.88,"y":1.02},{"p":"Hda2p","x":0.99,"y":1.02},{"p":"Hda2p","x":1.09,"y":1.02},{"p":"Hda2p","x":1.21,"y":1.02},{"p":"Hda2p","x":1.31,"y":1.02},{"p":"Hda2p","x":1.60,"y":1.02},{"p":"Hda2p","x":1.02,"y":0.898},{"p":"Hda2p","x":0.98,"y":0.733},{"p":"Hda2p","x":1.04,"y":0.740},{"p":"Hda2p","x":1.46,"y":0.841},{"p":"Hda2p","x":1.75,"y":0.733},{"p":"Hda2p","x":1.75,"y":0.660},{"p":"Hda2p","x":1.69,"y":0.540},{"p":"Hda2p","x":2.16,"y":0.015},
{"p":"Chd1p","x":0.13,"y":1.02},{"p":"Chd1p","x":0.22,"y":1.02},{"p":"Chd1p","x":0.54,"y":1.02},{"p":"Chd1p","x":0.66,"y":1.02},{"p":"Chd1p","x":0.76,"y":1.02},{"p":"Chd1p","x":0.86,"y":1.02},{"p":"Chd1p","x":0.91,"y":1.02},{"p":"Chd1p","x":1.20,"y":1.02},{"p":"Chd1p","x":1.30,"y":1.02},{"p":"Chd1p","x":1.15,"y":0.756},{"p":"Chd1p","x":1.14,"y":0.724},{"p":"Chd1p","x":1.17,"y":0.603},{"p":"Chd1p","x":0.95,"y":0.015},{"p":"Chd1p","x":1.01,"y":0.015},{"p":"Chd1p","x":1.50,"y":0.015}
 ]},
 "facet":{"field":"p","type":"nominal","sort":["H2B","H4","Kap123p","H2A","Cbf1p*","Ioc3p","Rxt3p","Rap1p","Cbf1p","Fpr4p","Tup1p","H1","Sir2p","Vps75p","Asf1p","Sin3p","Set2p","Hda2p","Chd1p"],"header":{"labels":false,"labelExpr":"''","labelFontSize":1,"labelPadding":0,"title":null}},
 "columns":4,
 "spacing":{"row":10.5,"column":18},
 "resolve":{"axis":{"x":"independent","y":"independent"}},
 "spec":{
  "width":288,"height":173,
  "layer":[
   {"mark":{"type":"circle","size":42,"color":"black","opacity":1},
    "encoding":{
     "x":{"field":"x","type":"quantitative","scale":{"domain":[-2.42,4.39],"nice":false,"zero":false},
      "axis":{"title":null,"values":[-2,-1.5,-1,-0.5,0,0.5,1,1.5,2,2.5,3,3.5,4],"labelExpr":"datum.value % 1 == 0 ? toString(datum.value) : ''","labelOverlap":false,"labelFlush":false,"grid":true,"gridColor":"#777777","gridWidth":1.5,"gridOpacity":{"condition":{"test":"datum.value == 0","value":1},"value":0}}},
     "y":{"field":"y","type":"quantitative","scale":{"domain":[-0.185,1.46],"nice":false,"zero":false},
      "axis":{"title":null,"values":[-0.1,0,0.1,0.2,0.3,0.4,0.5,0.6,0.7,0.8,0.9,1,1.1],"labelExpr":"(datum.value >= 0 && datum.value <= 1 && round(datum.value*10) % 2 == 0) ? toString(datum.value) : ''","labelOverlap":false,"labelFlush":false,"grid":true,"gridWidth":1.3,"gridColor":{"condition":{"test":"datum.value == 0.5","value":"#ff3b3b"},"value":"#2a2aff"},"gridOpacity":{"condition":{"test":"datum.value == 0 || datum.value == 0.5 || datum.value == 1","value":1},"value":0}}}
    }},
   {"transform":[{"aggregate":[{"op":"count","as":"n"}],"groupby":["p"]}],
    "mark":{"type":"rect","fill":"#0000ff","stroke":"black","strokeWidth":2},
    "encoding":{"x":{"value":0},"x2":{"value":"width"},
     "y":{"datum":1.46,"type":"quantitative","axis":{"title":null,"values":[-0.1,0,0.1,0.2,0.3,0.4,0.5,0.6,0.7,0.8,0.9,1,1.1],"labelExpr":"(datum.value >= 0 && datum.value <= 1 && round(datum.value*10) % 2 == 0) ? toString(datum.value) : ''","labelOverlap":false,"labelFlush":false,"grid":true,"gridWidth":1.3,"gridColor":{"condition":{"test":"datum.value == 0.5","value":"#ff3b3b"},"value":"#2a2aff"},"gridOpacity":{"condition":{"test":"datum.value == 0 || datum.value == 0.5 || datum.value == 1","value":1},"value":0}}},
     "y2":{"datum":1.19}}},
   {"transform":[{"aggregate":[{"op":"count","as":"n"}],"groupby":["p"]}],
    "mark":{"type":"text","color":"white","fontWeight":"bold","fontSize":19,"baseline":"middle","align":"center","font":"Lato"},
    "encoding":{"text":{"field":"p"},
     "x":{"datum":0.985,"type":"quantitative","axis":{"title":null,"values":[-2,-1.5,-1,-0.5,0,0.5,1,1.5,2,2.5,3,3.5,4],"labelExpr":"datum.value % 1 == 0 ? toString(datum.value) : ''","labelOverlap":false,"labelFlush":false,"grid":true,"gridColor":"#777777","gridWidth":1.5,"gridOpacity":{"condition":{"test":"datum.value == 0","value":1},"value":0}}},
     "y":{"datum":1.325,"type":"quantitative","axis":{"title":null,"values":[-0.1,0,0.1,0.2,0.3,0.4,0.5,0.6,0.7,0.8,0.9,1,1.1],"labelExpr":"(datum.value >= 0 && datum.value <= 1 && round(datum.value*10) % 2 == 0) ? toString(datum.value) : ''","labelOverlap":false,"labelFlush":false,"grid":true,"gridWidth":1.3,"gridColor":{"condition":{"test":"datum.value == 0.5","value":"#ff3b3b"},"value":"#2a2aff"},"gridOpacity":{"condition":{"test":"datum.value == 0 || datum.value == 0.5 || datum.value == 1","value":1},"value":0}}}}}
  ]
 }
}]
}
